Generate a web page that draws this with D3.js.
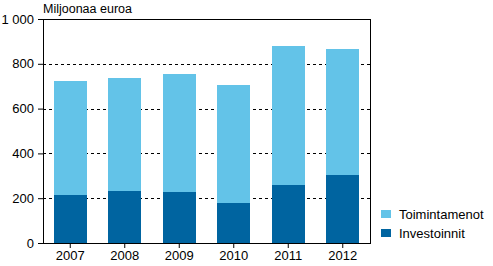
<!DOCTYPE html>
<html>
<head>
<meta charset="utf-8">
<script src="https://cdn.jsdelivr.net/npm/d3@7"></script>
<style>
  body { margin: 0; background: #fff; }
  svg { display: block; font-family: "Liberation Sans", Arial, sans-serif; }
</style>
</head>
<body>
<div id="chart"></div>
<script>
// data
var YEARS = ["2007", "2008", "2009", "2010", "2011", "2012"];
var INVESTOINNIT = [214, 232, 228, 179, 259, 304];
var TOIMINTAMENOT = [509, 505, 526, 526, 620, 562];
var Y_TICKS = [0, 200, 400, 600, 800, 1000];
var SERIES = ["Investoinnit", "Toimintamenot"];
var COLORS = {"Investoinnit": "#0064a0", "Toimintamenot": "#63c3e8"};

var W = 493, H = 266;
var M = {top: 19, right: 123, bottom: 23, left: 43};
var width = W - M.left - M.right, height = H - M.top - M.bottom;

var svg = d3.select("#chart").append("svg").attr("width", W).attr("height", H)
  .append("g").attr("transform", "translate(" + M.left + "," + M.top + ")");

var x = d3.scaleBand().domain(YEARS).range([0, width]).paddingInner(0.4).paddingOuter(0.2);
var y = d3.scaleLinear().domain([0, 1000]).range([height, 0]);

var rows = YEARS.map(function(yr, i){
  return {year: yr, Investoinnit: INVESTOINNIT[i], Toimintamenot: TOIMINTAMENOT[i]};
});
var stack = d3.stack().keys(SERIES)(rows);

// gridlines
svg.append("g").selectAll("line").data(Y_TICKS.filter(function(d){ return d > 0 && d < 1000; }))
  .enter().append("line")
  .attr("x1", 0).attr("x2", width)
  .attr("y1", function(d){ return Math.round(y(d)) + 0.5; })
  .attr("y2", function(d){ return Math.round(y(d)) + 0.5; })
  .style("stroke", "#000").style("stroke-dasharray", "3,3").style("shape-rendering", "crispEdges");

// bars
svg.append("g").selectAll("g").data(stack).enter().append("g")
  .style("fill", function(d){ return COLORS[d.key]; })
  .selectAll("rect").data(function(d){ return d; }).enter().append("rect")
  .attr("x", function(d){ return x(d.data.year); })
  .attr("width", x.bandwidth())
  .attr("y", function(d){ return y(d[1]); })
  .attr("height", function(d){ return y(d[0]) - y(d[1]); })
  .style("shape-rendering", "crispEdges");

// frame
svg.append("rect").attr("x", 0.5).attr("y", 0.5).attr("width", width).attr("height", height - 0.5)
  .style("fill", "none").style("stroke", "#000").style("shape-rendering", "crispEdges");

// axes
var yAxis = svg.append("g").call(d3.axisLeft(y).tickValues(Y_TICKS).tickSize(5).tickPadding(4)
  .tickFormat(function(d){ return d3.format(",")(d).replace(",", " "); }));
yAxis.select(".domain").remove();

var xAxis = svg.append("g").attr("transform", "translate(0," + height + ")")
  .call(d3.axisBottom(x).tickSize(5).tickPadding(3));
xAxis.select(".domain").remove();

svg.selectAll(".tick text").style("font-size", "13px").style("fill", "#000")
  .style("font-family", "'Liberation Sans', Arial, sans-serif");
svg.selectAll(".tick line").style("stroke", "#000");

// title
svg.append("text").text("Miljoonaa euroa").attr("x", 0).attr("y", -6)
  .style("font-size", "12.5px");

// legend
var legend = svg.append("g").attr("transform", "translate(" + (width + 11) + ",191)");
var LEG = ["Toimintamenot", "Investoinnit"];
LEG.forEach(function(k, i){
  var g = legend.append("g").attr("transform", "translate(0," + (i * 19) + ")");
  g.append("rect").attr("width", 10).attr("height", 8).style("fill", COLORS[k]);
  g.append("text").text(k).attr("x", 18).attr("y", 9).style("font-size", "13px");
});
</script>
</body>
</html>
